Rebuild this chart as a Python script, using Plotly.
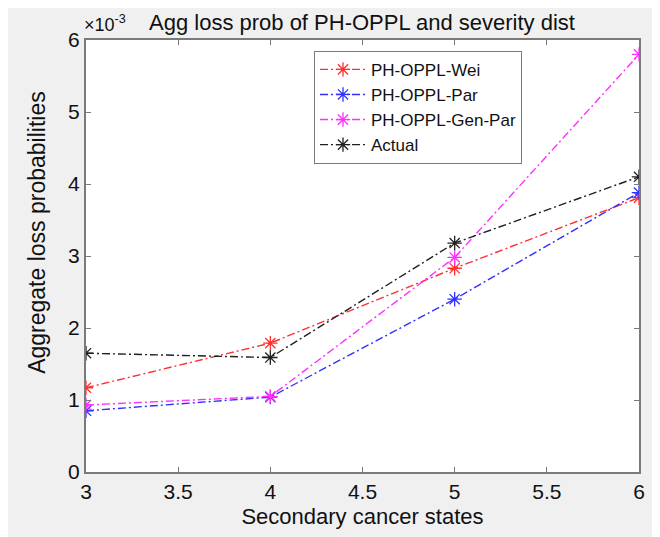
import plotly.graph_objects as go

states = [3, 4, 5, 6]
wei = [1.17, 1.79, 2.83, 3.81]
par = [0.85, 1.04, 2.40, 3.88]
genpar = [0.93, 1.05, 2.98, 5.80]
actual = [1.65, 1.59, 3.18, 4.10]

series = [
    ("PH-OPPL-Wei", wei, "#ff3030"),
    ("PH-OPPL-Par", par, "#3030ff"),
    ("PH-OPPL-Gen-Par", genpar, "#ff30ff"),
    ("Actual", actual, "#202020"),
]

fig = go.Figure()
for name, vals, col in series:
    fig.add_trace(go.Scatter(
        x=states, y=vals, name=name, mode="lines+markers",
        line=dict(color=col, width=1.4, dash="8px,3px,2px,3px"),
        marker=dict(symbol="asterisk-open", size=12, line=dict(color=col, width=1.3)),
    ))

# page offset from body margin
OX, OY = 8, 8
W, H = 652, 529
# plot area in page pixels
PL, PR, PT, PB = 86, 639, 40, 479
L, R, T, B = PL - OX, W - (PR - OX), PT - OY, H - (PB - OY)
pw, ph = W - L - R, H - T - B
def px(x): return (x - PL) / pw
def py(y): return (PB - y) / ph

axis_common = dict(
    showgrid=False, zeroline=False, showline=True, mirror="ticks",
    linecolor="#7a7a7a", linewidth=2, ticks="inside", ticklen=5,
    tickcolor="#7a7a7a", tickfont=dict(family="Liberation Sans, Arial", size=21, color="#111"),
)

fig.update_layout(
    width=W, height=H,
    margin=dict(l=L, r=R, t=T, b=B),
    paper_bgcolor="#f0f0f0", plot_bgcolor="white",
    font=dict(family="Liberation Sans, Arial", color="#111"),
    xaxis=dict(range=[3, 6], dtick=0.5, **axis_common,
               title=dict(text="Secondary cancer states", font=dict(size=22), standoff=6)),
    yaxis=dict(range=[0, 6], dtick=1, **axis_common),
    legend=dict(x=px(314), y=py(51), xanchor="left", yanchor="top",
                bgcolor="white", bordercolor="#7a7a7a", borderwidth=1,
                font=dict(size=17, color="#111"), tracegroupgap=0,
                itemwidth=46),
    showlegend=True,
)

fig.add_annotation(text="Aggregate loss probabilities", xref="paper", yref="paper",
                   x=px(37), y=py(236), xanchor="center", yanchor="middle", textangle=-90,
                   showarrow=False, font=dict(size=23, color="#111"))
fig.add_annotation(text="Agg loss prob of PH-OPPL and severity dist", xref="paper", yref="paper",
                   x=px(362), y=py(22), xanchor="center", yanchor="middle",
                   showarrow=False, font=dict(size=22, color="#111"))
fig.add_annotation(text="×10<sup>-3</sup>", xref="paper", yref="paper",
                   x=px(82), y=py(23), xanchor="left", yanchor="middle",
                   showarrow=False, font=dict(size=18, color="#111"))

fig.write_html("out.html")
